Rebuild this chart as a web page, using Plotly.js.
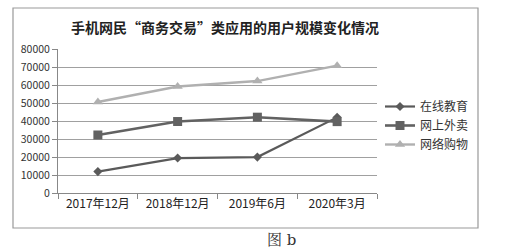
<!DOCTYPE html>
<html><head><meta charset="utf-8">
<script src="https://cdn.plot.ly/plotly-3.0.1.min.js"></script>
<style>html,body{margin:0;padding:0;background:#fff;}#c{width:522px;height:248px;}</style>
</head><body><div id="c"></div>
<script>
const categories = ['2017年12月', '2018年12月', '2019年6月', '2020年3月'];
const onlineEducation = [11890, 19416, 19946, 42023];
const foodDelivery = [32229, 39708, 42118, 39653];
const onlineShopping = [50563, 59191, 62181, 70749];
const yTicks = [0, 10000, 20000, 30000, 40000, 50000, 60000, 70000, 80000];

const L = 58, R = 377, T = 49, B = 193;
const W = R - L, H = B - T;
const px = x => (x - L) / W, py = y => (B - y) / H;

const traces = [
  {x: categories, y: onlineEducation, name: '在线教育', type: 'scatter', mode: 'lines+markers',
   line: {color: '#5a5a5a', width: 2.2}, marker: {symbol: 'diamond', size: 7, color: '#5a5a5a'}},
  {x: categories, y: foodDelivery, name: '网上外卖', type: 'scatter', mode: 'lines+markers',
   line: {color: '#626262', width: 2.6}, marker: {symbol: 'square', size: 9, color: '#626262'}},
  {x: categories, y: onlineShopping, name: '网络购物', type: 'scatter', mode: 'lines+markers',
   line: {color: '#b0b0b0', width: 2.4}, marker: {symbol: 'triangle-up', size: 9, color: '#b0b0b0'}}
];

const font = '"Noto Sans CJK SC", "Noto Sans", sans-serif';
const layout = {
  width: 522, height: 248,
  margin: {l: L, r: 522 - R, t: T, b: 248 - B, pad: 0},
  paper_bgcolor: '#fff', plot_bgcolor: '#fff',
  showlegend: true,
  legend: {x: px(380), y: py(92), xanchor: 'left', yanchor: 'top',
           font: {family: font, size: 12, color: '#333'}, itemwidth: 30, tracegroupgap: 4,
           bgcolor: 'rgba(0,0,0,0)'},
  title: {text: '<b>手机网民“商务交易”类应用的用户规模变化情况</b>', x: 225/522, xanchor: 'center',
          y: 1 - 28/248, yanchor: 'middle', font: {family: font, size: 14, color: '#222'}},
  xaxis: {type: 'category', tickson: 'boundaries', ticks: 'outside', ticklen: 5, tickcolor: '#888',
          showline: true, linecolor: '#888', linewidth: 1, showgrid: false,
          tickfont: {family: font, size: 12, color: '#222'}, range: [-0.5, 3.5]},
  yaxis: {range: [0, 80000], tickvals: yTicks, ticktext: yTicks.map(String), ticks: 'outside', ticklen: 5,
          tickcolor: '#888', showline: true, linecolor: '#888', gridcolor: '#a0a0a0', gridwidth: 1,
          zeroline: false, tickfont: {family: font, size: 10.5, color: '#333'}},
  shapes: [
    {type: 'rect', xref: 'paper', yref: 'paper', x0: px(13), x1: px(478), y0: py(228), y1: py(8),
     line: {color: '#999', width: 1.2}, fillcolor: 'rgba(0,0,0,0)', layer: 'below'}
  ],
  annotations: [
    {text: '图 b', xref: 'paper', yref: 'paper', x: px(281), y: py(240), xanchor: 'center', yanchor: 'middle',
     showarrow: false, font: {family: '"DejaVu Serif", "Noto Serif CJK SC", serif', size: 15, color: '#333'}}
  ]
};
Plotly.newPlot('c', traces, layout, {staticPlot: true});
</script></body></html>
